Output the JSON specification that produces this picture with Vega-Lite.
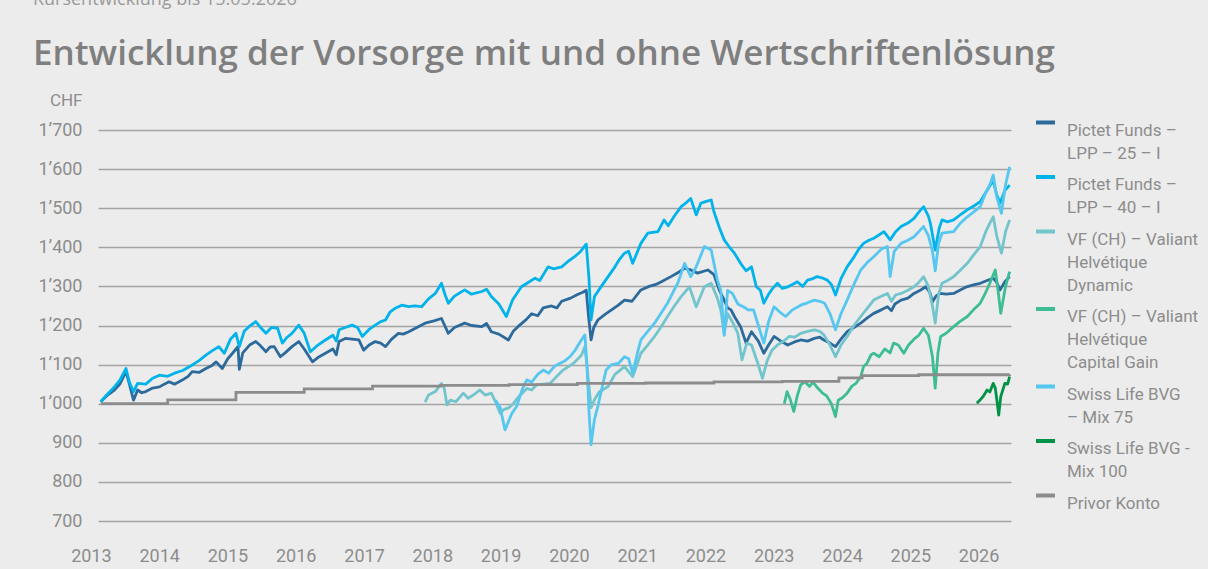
{
  "$schema": "https://vega.github.io/schema/vega-lite/v6.json",
  "width": 913,
  "height": 391,
  "autosize": {"type": "none"},
  "padding": {"left": 98, "top": 130, "right": 197, "bottom": 48},
  "background": "#ececec",
  "config": {"view": {"stroke": null}, "font": "Roboto"},
  "title": {
    "text": "Kursentwicklung bis 15.05.2026",
    "subtitle": "Entwicklung der Vorsorge mit und ohne Wertschriftenlösung",
    "anchor": "start",
    "frame": "group",
    "dx": -65,
    "offset": 19,
    "font": "Open Sans",
    "fontSize": 18,
    "fontWeight": "normal",
    "color": "#9a9a9a",
    "subtitleFont": "Open Sans",
    "subtitleFontSize": 35,
    "subtitleFontWeight": 600,
    "subtitleColor": "#7f7f7f",
    "subtitlePadding": 28
  },
  "data": {"values": [
    {"f":"P25","t":2013.02,"v":1005},{"f":"P25","t":2013.12,"v":1022},{"f":"P25","t":2013.22,"v":1035},{"f":"P25","t":2013.30,"v":1050},{"f":"P25","t":2013.39,"v":1082},{"f":"P25","t":2013.44,"v":1050},{"f":"P25","t":2013.50,"v":1009},{"f":"P25","t":2013.56,"v":1035},{"f":"P25","t":2013.62,"v":1028},{"f":"P25","t":2013.68,"v":1031},{"f":"P25","t":2013.78,"v":1040},{"f":"P25","t":2013.88,"v":1043},{"f":"P25","t":2013.95,"v":1050},{"f":"P25","t":2014.02,"v":1056},{"f":"P25","t":2014.10,"v":1050},{"f":"P25","t":2014.22,"v":1061},{"f":"P25","t":2014.30,"v":1070},{"f":"P25","t":2014.36,"v":1082},{"f":"P25","t":2014.46,"v":1080},{"f":"P25","t":2014.56,"v":1090},{"f":"P25","t":2014.65,"v":1098},{"f":"P25","t":2014.71,"v":1107},{"f":"P25","t":2014.80,"v":1090},{"f":"P25","t":2014.88,"v":1115},{"f":"P25","t":2014.95,"v":1129},{"f":"P25","t":2015.03,"v":1146},{"f":"P25","t":2015.05,"v":1088},{"f":"P25","t":2015.10,"v":1130},{"f":"P25","t":2015.20,"v":1150},{"f":"P25","t":2015.29,"v":1159},{"f":"P25","t":2015.36,"v":1148},{"f":"P25","t":2015.44,"v":1133},{"f":"P25","t":2015.50,"v":1145},{"f":"P25","t":2015.56,"v":1146},{"f":"P25","t":2015.65,"v":1120},{"f":"P25","t":2015.72,"v":1130},{"f":"P25","t":2015.82,"v":1146},{"f":"P25","t":2015.92,"v":1159},{"f":"P25","t":2016.00,"v":1140},{"f":"P25","t":2016.12,"v":1107},{"f":"P25","t":2016.20,"v":1118},{"f":"P25","t":2016.31,"v":1129},{"f":"P25","t":2016.42,"v":1140},{"f":"P25","t":2016.47,"v":1125},{"f":"P25","t":2016.51,"v":1159},{"f":"P25","t":2016.60,"v":1167},{"f":"P25","t":2016.70,"v":1165},{"f":"P25","t":2016.80,"v":1163},{"f":"P25","t":2016.87,"v":1137},{"f":"P25","t":2016.95,"v":1150},{"f":"P25","t":2017.04,"v":1159},{"f":"P25","t":2017.12,"v":1155},{"f":"P25","t":2017.19,"v":1146},{"f":"P25","t":2017.28,"v":1165},{"f":"P25","t":2017.38,"v":1180},{"f":"P25","t":2017.45,"v":1178},{"f":"P25","t":2017.53,"v":1184},{"f":"P25","t":2017.65,"v":1195},{"f":"P25","t":2017.77,"v":1206},{"f":"P25","t":2017.90,"v":1212},{"f":"P25","t":2018.01,"v":1218},{"f":"P25","t":2018.11,"v":1180},{"f":"P25","t":2018.20,"v":1195},{"f":"P25","t":2018.35,"v":1206},{"f":"P25","t":2018.45,"v":1200},{"f":"P25","t":2018.60,"v":1197},{"f":"P25","t":2018.67,"v":1205},{"f":"P25","t":2018.74,"v":1184},{"f":"P25","t":2018.85,"v":1178},{"f":"P25","t":2018.99,"v":1163},{"f":"P25","t":2019.06,"v":1185},{"f":"P25","t":2019.13,"v":1197},{"f":"P25","t":2019.25,"v":1215},{"f":"P25","t":2019.33,"v":1230},{"f":"P25","t":2019.42,"v":1225},{"f":"P25","t":2019.50,"v":1245},{"f":"P25","t":2019.62,"v":1250},{"f":"P25","t":2019.70,"v":1245},{"f":"P25","t":2019.77,"v":1262},{"f":"P25","t":2019.90,"v":1270},{"f":"P25","t":2020.01,"v":1280},{"f":"P25","t":2020.08,"v":1285},{"f":"P25","t":2020.13,"v":1290},{"f":"P25","t":2020.16,"v":1230},{"f":"P25","t":2020.20,"v":1163},{"f":"P25","t":2020.24,"v":1195},{"f":"P25","t":2020.30,"v":1214},{"f":"P25","t":2020.40,"v":1228},{"f":"P25","t":2020.50,"v":1240},{"f":"P25","t":2020.60,"v":1252},{"f":"P25","t":2020.69,"v":1265},{"f":"P25","t":2020.80,"v":1262},{"f":"P25","t":2020.93,"v":1291},{"f":"P25","t":2021.05,"v":1300},{"f":"P25","t":2021.15,"v":1305},{"f":"P25","t":2021.23,"v":1312},{"f":"P25","t":2021.37,"v":1325},{"f":"P25","t":2021.47,"v":1335},{"f":"P25","t":2021.57,"v":1346},{"f":"P25","t":2021.66,"v":1342},{"f":"P25","t":2021.76,"v":1334},{"f":"P25","t":2021.91,"v":1342},{"f":"P25","t":2022.00,"v":1330},{"f":"P25","t":2022.08,"v":1290},{"f":"P25","t":2022.15,"v":1265},{"f":"P25","t":2022.20,"v":1245},{"f":"P25","t":2022.25,"v":1240},{"f":"P25","t":2022.30,"v":1223},{"f":"P25","t":2022.39,"v":1197},{"f":"P25","t":2022.47,"v":1155},{"f":"P25","t":2022.55,"v":1184},{"f":"P25","t":2022.65,"v":1160},{"f":"P25","t":2022.73,"v":1129},{"f":"P25","t":2022.80,"v":1150},{"f":"P25","t":2022.88,"v":1172},{"f":"P25","t":2022.98,"v":1160},{"f":"P25","t":2023.08,"v":1150},{"f":"P25","t":2023.18,"v":1158},{"f":"P25","t":2023.27,"v":1163},{"f":"P25","t":2023.37,"v":1160},{"f":"P25","t":2023.47,"v":1167},{"f":"P25","t":2023.55,"v":1170},{"f":"P25","t":2023.61,"v":1163},{"f":"P25","t":2023.70,"v":1155},{"f":"P25","t":2023.78,"v":1146},{"f":"P25","t":2023.86,"v":1165},{"f":"P25","t":2023.95,"v":1184},{"f":"P25","t":2024.05,"v":1195},{"f":"P25","t":2024.15,"v":1206},{"f":"P25","t":2024.25,"v":1220},{"f":"P25","t":2024.34,"v":1231},{"f":"P25","t":2024.45,"v":1240},{"f":"P25","t":2024.54,"v":1248},{"f":"P25","t":2024.60,"v":1238},{"f":"P25","t":2024.65,"v":1255},{"f":"P25","t":2024.74,"v":1265},{"f":"P25","t":2024.84,"v":1270},{"f":"P25","t":2024.93,"v":1282},{"f":"P25","t":2025.02,"v":1290},{"f":"P25","t":2025.10,"v":1299},{"f":"P25","t":2025.16,"v":1285},{"f":"P25","t":2025.20,"v":1261},{"f":"P25","t":2025.25,"v":1275},{"f":"P25","t":2025.31,"v":1282},{"f":"P25","t":2025.40,"v":1280},{"f":"P25","t":2025.51,"v":1282},{"f":"P25","t":2025.60,"v":1290},{"f":"P25","t":2025.70,"v":1299},{"f":"P25","t":2025.80,"v":1304},{"f":"P25","t":2025.90,"v":1308},{"f":"P25","t":2026.00,"v":1315},{"f":"P25","t":2026.09,"v":1321},{"f":"P25","t":2026.14,"v":1310},{"f":"P25","t":2026.19,"v":1291},{"f":"P25","t":2026.26,"v":1312},{"f":"P25","t":2026.33,"v":1325},

    {"f":"P40","t":2013.02,"v":1005},{"f":"P40","t":2013.12,"v":1025},{"f":"P40","t":2013.22,"v":1043},{"f":"P40","t":2013.30,"v":1060},{"f":"P40","t":2013.39,"v":1090},{"f":"P40","t":2013.44,"v":1055},{"f":"P40","t":2013.50,"v":1031},{"f":"P40","t":2013.56,"v":1052},{"f":"P40","t":2013.68,"v":1050},{"f":"P40","t":2013.78,"v":1065},{"f":"P40","t":2013.88,"v":1073},{"f":"P40","t":2014.00,"v":1070},{"f":"P40","t":2014.10,"v":1078},{"f":"P40","t":2014.22,"v":1085},{"f":"P40","t":2014.36,"v":1099},{"f":"P40","t":2014.46,"v":1110},{"f":"P40","t":2014.56,"v":1124},{"f":"P40","t":2014.65,"v":1135},{"f":"P40","t":2014.75,"v":1146},{"f":"P40","t":2014.83,"v":1129},{"f":"P40","t":2014.92,"v":1165},{"f":"P40","t":2015.00,"v":1180},{"f":"P40","t":2015.05,"v":1146},{"f":"P40","t":2015.12,"v":1185},{"f":"P40","t":2015.19,"v":1197},{"f":"P40","t":2015.29,"v":1210},{"f":"P40","t":2015.36,"v":1195},{"f":"P40","t":2015.44,"v":1180},{"f":"P40","t":2015.52,"v":1195},{"f":"P40","t":2015.61,"v":1193},{"f":"P40","t":2015.68,"v":1155},{"f":"P40","t":2015.75,"v":1170},{"f":"P40","t":2015.82,"v":1180},{"f":"P40","t":2015.92,"v":1201},{"f":"P40","t":2016.00,"v":1180},{"f":"P40","t":2016.09,"v":1133},{"f":"P40","t":2016.20,"v":1150},{"f":"P40","t":2016.31,"v":1163},{"f":"P40","t":2016.42,"v":1175},{"f":"P40","t":2016.47,"v":1160},{"f":"P40","t":2016.51,"v":1189},{"f":"P40","t":2016.60,"v":1195},{"f":"P40","t":2016.70,"v":1201},{"f":"P40","t":2016.78,"v":1195},{"f":"P40","t":2016.85,"v":1172},{"f":"P40","t":2016.95,"v":1190},{"f":"P40","t":2017.04,"v":1201},{"f":"P40","t":2017.12,"v":1210},{"f":"P40","t":2017.19,"v":1214},{"f":"P40","t":2017.26,"v":1235},{"f":"P40","t":2017.33,"v":1244},{"f":"P40","t":2017.43,"v":1252},{"f":"P40","t":2017.53,"v":1248},{"f":"P40","t":2017.62,"v":1250},{"f":"P40","t":2017.72,"v":1248},{"f":"P40","t":2017.82,"v":1268},{"f":"P40","t":2017.92,"v":1282},{"f":"P40","t":2018.01,"v":1308},{"f":"P40","t":2018.06,"v":1280},{"f":"P40","t":2018.11,"v":1257},{"f":"P40","t":2018.20,"v":1275},{"f":"P40","t":2018.35,"v":1291},{"f":"P40","t":2018.45,"v":1280},{"f":"P40","t":2018.60,"v":1287},{"f":"P40","t":2018.67,"v":1293},{"f":"P40","t":2018.74,"v":1274},{"f":"P40","t":2018.85,"v":1255},{"f":"P40","t":2018.96,"v":1223},{"f":"P40","t":2019.05,"v":1265},{"f":"P40","t":2019.18,"v":1299},{"f":"P40","t":2019.28,"v":1310},{"f":"P40","t":2019.38,"v":1321},{"f":"P40","t":2019.45,"v":1315},{"f":"P40","t":2019.57,"v":1350},{"f":"P40","t":2019.65,"v":1345},{"f":"P40","t":2019.77,"v":1350},{"f":"P40","t":2019.87,"v":1365},{"f":"P40","t":2019.96,"v":1376},{"f":"P40","t":2020.05,"v":1390},{"f":"P40","t":2020.13,"v":1408},{"f":"P40","t":2020.17,"v":1320},{"f":"P40","t":2020.20,"v":1214},{"f":"P40","t":2020.25,"v":1274},{"f":"P40","t":2020.35,"v":1300},{"f":"P40","t":2020.45,"v":1325},{"f":"P40","t":2020.55,"v":1350},{"f":"P40","t":2020.62,"v":1370},{"f":"P40","t":2020.69,"v":1385},{"f":"P40","t":2020.75,"v":1390},{"f":"P40","t":2020.81,"v":1359},{"f":"P40","t":2020.93,"v":1410},{"f":"P40","t":2021.03,"v":1436},{"f":"P40","t":2021.18,"v":1440},{"f":"P40","t":2021.27,"v":1470},{"f":"P40","t":2021.33,"v":1455},{"f":"P40","t":2021.42,"v":1480},{"f":"P40","t":2021.52,"v":1504},{"f":"P40","t":2021.60,"v":1515},{"f":"P40","t":2021.66,"v":1525},{"f":"P40","t":2021.74,"v":1483},{"f":"P40","t":2021.81,"v":1513},{"f":"P40","t":2021.90,"v":1518},{"f":"P40","t":2021.96,"v":1521},{"f":"P40","t":2022.00,"v":1491},{"f":"P40","t":2022.08,"v":1450},{"f":"P40","t":2022.15,"v":1419},{"f":"P40","t":2022.22,"v":1402},{"f":"P40","t":2022.30,"v":1385},{"f":"P40","t":2022.39,"v":1359},{"f":"P40","t":2022.47,"v":1340},{"f":"P40","t":2022.55,"v":1350},{"f":"P40","t":2022.62,"v":1299},{"f":"P40","t":2022.68,"v":1290},{"f":"P40","t":2022.73,"v":1257},{"f":"P40","t":2022.80,"v":1280},{"f":"P40","t":2022.86,"v":1295},{"f":"P40","t":2022.93,"v":1308},{"f":"P40","t":2023.00,"v":1295},{"f":"P40","t":2023.08,"v":1299},{"f":"P40","t":2023.15,"v":1305},{"f":"P40","t":2023.22,"v":1312},{"f":"P40","t":2023.30,"v":1300},{"f":"P40","t":2023.37,"v":1316},{"f":"P40","t":2023.45,"v":1320},{"f":"P40","t":2023.51,"v":1325},{"f":"P40","t":2023.58,"v":1322},{"f":"P40","t":2023.66,"v":1316},{"f":"P40","t":2023.72,"v":1305},{"f":"P40","t":2023.78,"v":1278},{"f":"P40","t":2023.86,"v":1320},{"f":"P40","t":2023.95,"v":1350},{"f":"P40","t":2024.05,"v":1375},{"f":"P40","t":2024.12,"v":1395},{"f":"P40","t":2024.19,"v":1410},{"f":"P40","t":2024.27,"v":1418},{"f":"P40","t":2024.34,"v":1423},{"f":"P40","t":2024.42,"v":1432},{"f":"P40","t":2024.49,"v":1440},{"f":"P40","t":2024.58,"v":1419},{"f":"P40","t":2024.66,"v":1440},{"f":"P40","t":2024.74,"v":1453},{"f":"P40","t":2024.84,"v":1462},{"f":"P40","t":2024.93,"v":1474},{"f":"P40","t":2025.00,"v":1490},{"f":"P40","t":2025.07,"v":1504},{"f":"P40","t":2025.14,"v":1480},{"f":"P40","t":2025.17,"v":1461},{"f":"P40","t":2025.24,"v":1393},{"f":"P40","t":2025.30,"v":1450},{"f":"P40","t":2025.34,"v":1470},{"f":"P40","t":2025.42,"v":1465},{"f":"P40","t":2025.51,"v":1470},{"f":"P40","t":2025.60,"v":1482},{"f":"P40","t":2025.71,"v":1496},{"f":"P40","t":2025.80,"v":1505},{"f":"P40","t":2025.90,"v":1517},{"f":"P40","t":2025.98,"v":1540},{"f":"P40","t":2026.05,"v":1560},{"f":"P40","t":2026.09,"v":1570},{"f":"P40","t":2026.14,"v":1535},{"f":"P40","t":2026.19,"v":1513},{"f":"P40","t":2026.26,"v":1545},{"f":"P40","t":2026.33,"v":1559},

    {"f":"VFD","t":2017.77,"v":1004},{"f":"VFD","t":2017.82,"v":1022},{"f":"VFD","t":2017.92,"v":1031},{"f":"VFD","t":2018.01,"v":1052},{"f":"VFD","t":2018.05,"v":1040},{"f":"VFD","t":2018.09,"v":997},{"f":"VFD","t":2018.14,"v":1009},{"f":"VFD","t":2018.22,"v":1005},{"f":"VFD","t":2018.33,"v":1027},{"f":"VFD","t":2018.40,"v":1014},{"f":"VFD","t":2018.50,"v":1025},{"f":"VFD","t":2018.57,"v":1035},{"f":"VFD","t":2018.65,"v":1022},{"f":"VFD","t":2018.74,"v":1027},{"f":"VFD","t":2018.80,"v":1005},{"f":"VFD","t":2018.87,"v":975},{"f":"VFD","t":2018.92,"v":985},{"f":"VFD","t":2019.00,"v":990},{"f":"VFD","t":2019.06,"v":1000},{"f":"VFD","t":2019.15,"v":1020},{"f":"VFD","t":2019.26,"v":1039},{"f":"VFD","t":2019.33,"v":1035},{"f":"VFD","t":2019.40,"v":1048},{"f":"VFD","t":2019.50,"v":1050},{"f":"VFD","t":2019.60,"v":1052},{"f":"VFD","t":2019.70,"v":1070},{"f":"VFD","t":2019.79,"v":1086},{"f":"VFD","t":2019.87,"v":1095},{"f":"VFD","t":2019.94,"v":1103},{"f":"VFD","t":2020.06,"v":1124},{"f":"VFD","t":2020.11,"v":1146},{"f":"VFD","t":2020.15,"v":1080},{"f":"VFD","t":2020.20,"v":990},{"f":"VFD","t":2020.25,"v":1010},{"f":"VFD","t":2020.32,"v":1030},{"f":"VFD","t":2020.45,"v":1044},{"f":"VFD","t":2020.55,"v":1075},{"f":"VFD","t":2020.69,"v":1095},{"f":"VFD","t":2020.81,"v":1069},{"f":"VFD","t":2020.93,"v":1129},{"f":"VFD","t":2021.03,"v":1150},{"f":"VFD","t":2021.13,"v":1172},{"f":"VFD","t":2021.22,"v":1195},{"f":"VFD","t":2021.32,"v":1223},{"f":"VFD","t":2021.42,"v":1250},{"f":"VFD","t":2021.52,"v":1274},{"f":"VFD","t":2021.64,"v":1299},{"f":"VFD","t":2021.74,"v":1248},{"f":"VFD","t":2021.86,"v":1299},{"f":"VFD","t":2021.96,"v":1308},{"f":"VFD","t":2022.05,"v":1270},{"f":"VFD","t":2022.10,"v":1240},{"f":"VFD","t":2022.15,"v":1180},{"f":"VFD","t":2022.20,"v":1230},{"f":"VFD","t":2022.28,"v":1206},{"f":"VFD","t":2022.35,"v":1180},{"f":"VFD","t":2022.41,"v":1112},{"f":"VFD","t":2022.48,"v":1155},{"f":"VFD","t":2022.55,"v":1150},{"f":"VFD","t":2022.63,"v":1110},{"f":"VFD","t":2022.71,"v":1065},{"f":"VFD","t":2022.78,"v":1110},{"f":"VFD","t":2022.85,"v":1137},{"f":"VFD","t":2022.93,"v":1150},{"f":"VFD","t":2023.02,"v":1160},{"f":"VFD","t":2023.10,"v":1172},{"f":"VFD","t":2023.18,"v":1170},{"f":"VFD","t":2023.27,"v":1180},{"f":"VFD","t":2023.37,"v":1185},{"f":"VFD","t":2023.47,"v":1189},{"f":"VFD","t":2023.55,"v":1185},{"f":"VFD","t":2023.61,"v":1176},{"f":"VFD","t":2023.70,"v":1150},{"f":"VFD","t":2023.78,"v":1120},{"f":"VFD","t":2023.86,"v":1150},{"f":"VFD","t":2023.95,"v":1172},{"f":"VFD","t":2024.05,"v":1200},{"f":"VFD","t":2024.15,"v":1223},{"f":"VFD","t":2024.25,"v":1245},{"f":"VFD","t":2024.34,"v":1265},{"f":"VFD","t":2024.45,"v":1275},{"f":"VFD","t":2024.54,"v":1282},{"f":"VFD","t":2024.60,"v":1262},{"f":"VFD","t":2024.66,"v":1278},{"f":"VFD","t":2024.74,"v":1282},{"f":"VFD","t":2024.84,"v":1290},{"f":"VFD","t":2024.93,"v":1299},{"f":"VFD","t":2025.00,"v":1310},{"f":"VFD","t":2025.07,"v":1325},{"f":"VFD","t":2025.14,"v":1300},{"f":"VFD","t":2025.20,"v":1250},{"f":"VFD","t":2025.24,"v":1206},{"f":"VFD","t":2025.29,"v":1280},{"f":"VFD","t":2025.34,"v":1308},{"f":"VFD","t":2025.42,"v":1315},{"f":"VFD","t":2025.51,"v":1325},{"f":"VFD","t":2025.60,"v":1340},{"f":"VFD","t":2025.71,"v":1359},{"f":"VFD","t":2025.80,"v":1380},{"f":"VFD","t":2025.90,"v":1402},{"f":"VFD","t":2025.98,"v":1440},{"f":"VFD","t":2026.05,"v":1465},{"f":"VFD","t":2026.09,"v":1478},{"f":"VFD","t":2026.14,"v":1430},{"f":"VFD","t":2026.21,"v":1385},{"f":"VFD","t":2026.27,"v":1440},{"f":"VFD","t":2026.33,"v":1470},

    {"f":"VFC","t":2023.03,"v":1000},{"f":"VFC","t":2023.07,"v":1031},{"f":"VFC","t":2023.12,"v":1010},{"f":"VFC","t":2023.17,"v":980},{"f":"VFC","t":2023.22,"v":1020},{"f":"VFC","t":2023.27,"v":1048},{"f":"VFC","t":2023.33,"v":1056},{"f":"VFC","t":2023.40,"v":1044},{"f":"VFC","t":2023.45,"v":1055},{"f":"VFC","t":2023.52,"v":1040},{"f":"VFC","t":2023.59,"v":1027},{"f":"VFC","t":2023.65,"v":1020},{"f":"VFC","t":2023.72,"v":1000},{"f":"VFC","t":2023.78,"v":967},{"f":"VFC","t":2023.82,"v":1009},{"f":"VFC","t":2023.88,"v":1015},{"f":"VFC","t":2023.95,"v":1027},{"f":"VFC","t":2024.02,"v":1045},{"f":"VFC","t":2024.08,"v":1052},{"f":"VFC","t":2024.15,"v":1069},{"f":"VFC","t":2024.19,"v":1095},{"f":"VFC","t":2024.24,"v":1103},{"f":"VFC","t":2024.30,"v":1125},{"f":"VFC","t":2024.34,"v":1129},{"f":"VFC","t":2024.42,"v":1120},{"f":"VFC","t":2024.50,"v":1140},{"f":"VFC","t":2024.58,"v":1130},{"f":"VFC","t":2024.63,"v":1155},{"f":"VFC","t":2024.70,"v":1150},{"f":"VFC","t":2024.78,"v":1129},{"f":"VFC","t":2024.85,"v":1150},{"f":"VFC","t":2024.93,"v":1165},{"f":"VFC","t":2025.00,"v":1175},{"f":"VFC","t":2025.07,"v":1193},{"f":"VFC","t":2025.14,"v":1175},{"f":"VFC","t":2025.20,"v":1120},{"f":"VFC","t":2025.24,"v":1040},{"f":"VFC","t":2025.28,"v":1130},{"f":"VFC","t":2025.32,"v":1172},{"f":"VFC","t":2025.40,"v":1180},{"f":"VFC","t":2025.51,"v":1197},{"f":"VFC","t":2025.60,"v":1210},{"f":"VFC","t":2025.71,"v":1223},{"f":"VFC","t":2025.80,"v":1240},{"f":"VFC","t":2025.90,"v":1257},{"f":"VFC","t":2025.98,"v":1285},{"f":"VFC","t":2026.04,"v":1308},{"f":"VFC","t":2026.12,"v":1342},{"f":"VFC","t":2026.16,"v":1290},{"f":"VFC","t":2026.20,"v":1231},{"f":"VFC","t":2026.27,"v":1300},{"f":"VFC","t":2026.33,"v":1338},

    {"f":"SL75","t":2018.80,"v":1009},{"f":"SL75","t":2018.87,"v":990},{"f":"SL75","t":2018.94,"v":933},{"f":"SL75","t":2018.98,"v":950},{"f":"SL75","t":2019.04,"v":975},{"f":"SL75","t":2019.11,"v":993},{"f":"SL75","t":2019.20,"v":1040},{"f":"SL75","t":2019.26,"v":1061},{"f":"SL75","t":2019.33,"v":1055},{"f":"SL75","t":2019.42,"v":1075},{"f":"SL75","t":2019.50,"v":1086},{"f":"SL75","t":2019.58,"v":1078},{"f":"SL75","t":2019.66,"v":1095},{"f":"SL75","t":2019.74,"v":1103},{"f":"SL75","t":2019.82,"v":1110},{"f":"SL75","t":2019.89,"v":1120},{"f":"SL75","t":2019.96,"v":1135},{"f":"SL75","t":2020.03,"v":1155},{"f":"SL75","t":2020.11,"v":1176},{"f":"SL75","t":2020.14,"v":1100},{"f":"SL75","t":2020.17,"v":980},{"f":"SL75","t":2020.20,"v":895},{"f":"SL75","t":2020.25,"v":960},{"f":"SL75","t":2020.30,"v":993},{"f":"SL75","t":2020.36,"v":1040},{"f":"SL75","t":2020.42,"v":1086},{"f":"SL75","t":2020.50,"v":1100},{"f":"SL75","t":2020.60,"v":1103},{"f":"SL75","t":2020.69,"v":1120},{"f":"SL75","t":2020.75,"v":1115},{"f":"SL75","t":2020.81,"v":1078},{"f":"SL75","t":2020.88,"v":1130},{"f":"SL75","t":2020.93,"v":1163},{"f":"SL75","t":2021.03,"v":1185},{"f":"SL75","t":2021.13,"v":1206},{"f":"SL75","t":2021.22,"v":1230},{"f":"SL75","t":2021.32,"v":1257},{"f":"SL75","t":2021.40,"v":1285},{"f":"SL75","t":2021.47,"v":1308},{"f":"SL75","t":2021.57,"v":1359},{"f":"SL75","t":2021.66,"v":1325},{"f":"SL75","t":2021.74,"v":1350},{"f":"SL75","t":2021.86,"v":1402},{"f":"SL75","t":2021.96,"v":1393},{"f":"SL75","t":2022.05,"v":1316},{"f":"SL75","t":2022.10,"v":1290},{"f":"SL75","t":2022.15,"v":1175},{"f":"SL75","t":2022.20,"v":1290},{"f":"SL75","t":2022.27,"v":1282},{"f":"SL75","t":2022.35,"v":1255},{"f":"SL75","t":2022.43,"v":1248},{"f":"SL75","t":2022.50,"v":1240},{"f":"SL75","t":2022.58,"v":1240},{"f":"SL75","t":2022.65,"v":1200},{"f":"SL75","t":2022.73,"v":1155},{"f":"SL75","t":2022.80,"v":1210},{"f":"SL75","t":2022.88,"v":1248},{"f":"SL75","t":2022.96,"v":1235},{"f":"SL75","t":2023.05,"v":1223},{"f":"SL75","t":2023.15,"v":1240},{"f":"SL75","t":2023.27,"v":1252},{"f":"SL75","t":2023.37,"v":1258},{"f":"SL75","t":2023.47,"v":1265},{"f":"SL75","t":2023.55,"v":1262},{"f":"SL75","t":2023.62,"v":1257},{"f":"SL75","t":2023.70,"v":1230},{"f":"SL75","t":2023.78,"v":1189},{"f":"SL75","t":2023.86,"v":1230},{"f":"SL75","t":2023.95,"v":1265},{"f":"SL75","t":2024.05,"v":1305},{"f":"SL75","t":2024.15,"v":1342},{"f":"SL75","t":2024.25,"v":1362},{"f":"SL75","t":2024.34,"v":1376},{"f":"SL75","t":2024.45,"v":1395},{"f":"SL75","t":2024.54,"v":1402},{"f":"SL75","t":2024.58,"v":1325},{"f":"SL75","t":2024.64,"v":1390},{"f":"SL75","t":2024.74,"v":1410},{"f":"SL75","t":2024.84,"v":1418},{"f":"SL75","t":2024.93,"v":1427},{"f":"SL75","t":2025.00,"v":1440},{"f":"SL75","t":2025.07,"v":1453},{"f":"SL75","t":2025.14,"v":1430},{"f":"SL75","t":2025.20,"v":1390},{"f":"SL75","t":2025.24,"v":1340},{"f":"SL75","t":2025.29,"v":1410},{"f":"SL75","t":2025.34,"v":1436},{"f":"SL75","t":2025.42,"v":1438},{"f":"SL75","t":2025.51,"v":1440},{"f":"SL75","t":2025.60,"v":1460},{"f":"SL75","t":2025.71,"v":1478},{"f":"SL75","t":2025.80,"v":1490},{"f":"SL75","t":2025.90,"v":1504},{"f":"SL75","t":2025.98,"v":1540},{"f":"SL75","t":2026.05,"v":1564},{"f":"SL75","t":2026.09,"v":1585},{"f":"SL75","t":2026.14,"v":1530},{"f":"SL75","t":2026.21,"v":1487},{"f":"SL75","t":2026.27,"v":1560},{"f":"SL75","t":2026.33,"v":1606},

    {"f":"SL100","t":2025.85,"v":1001},{"f":"SL100","t":2025.90,"v":1010},{"f":"SL100","t":2025.94,"v":1018},{"f":"SL100","t":2026.00,"v":1035},{"f":"SL100","t":2026.04,"v":1030},{"f":"SL100","t":2026.09,"v":1052},{"f":"SL100","t":2026.12,"v":1040},{"f":"SL100","t":2026.15,"v":1000},{"f":"SL100","t":2026.17,"v":971},{"f":"SL100","t":2026.20,"v":1018},{"f":"SL100","t":2026.26,"v":1052},{"f":"SL100","t":2026.30,"v":1050},{"f":"SL100","t":2026.33,"v":1069},

    {"f":"PK","t":2013.02,"v":1000},{"f":"PK","t":2014.0,"v":1010},{"f":"PK","t":2015.0,"v":1029},{"f":"PK","t":2016.0,"v":1038},{"f":"PK","t":2017.0,"v":1045},{"f":"PK","t":2018.0,"v":1047},{"f":"PK","t":2019.0,"v":1049},{"f":"PK","t":2020.0,"v":1052},{"f":"PK","t":2021.0,"v":1053},{"f":"PK","t":2022.0,"v":1056},{"f":"PK","t":2023.0,"v":1057},{"f":"PK","t":2023.83,"v":1066},{"f":"PK","t":2024.17,"v":1072},{"f":"PK","t":2025.0,"v":1074},{"f":"PK","t":2026.33,"v":1075}
  ]},
  "encoding": {
    "x": {
      "field": "t", "type": "quantitative",
      "scale": {"domain": [2012.98, 2026.35], "nice": false, "zero": false},
      "axis": {
        "values": [2013,2014,2015,2016,2017,2018,2019,2020,2021,2022,2023,2024,2025,2026],
        "format": "d", "labelOffset": -8.5, "labelFlush": false, "labelOverlap": false,
        "grid": false, "domain": false, "ticks": false,
        "labelPadding": 26, "labelFontSize": 18, "labelColor": "#8c8c8c", "title": null
      }
    },
    "y": {
      "field": "v", "type": "quantitative",
      "scale": {"domain": [700, 1700], "nice": false, "zero": false},
      "axis": {
        "values": [700,800,900,1000,1100,1200,1300,1400,1500,1600,1700],
        "labelExpr": "replace(format(datum.value, ','), ',', '’')",
        "grid": true, "gridColor": "#a3a3a3", "gridWidth": 1.5,
        "domain": false, "ticks": false, "labelPadding": 16,
        "labelFontSize": 18, "labelColor": "#8c8c8c",
        "title": "CHF", "titleAngle": 0, "titleAlign": "right", "titleBaseline": "middle",
        "titleX": -16, "titleY": -30, "titleFontSize": 17, "titleFontWeight": "normal", "titleColor": "#8c8c8c"
      }
    },
    "color": {
      "field": "f", "type": "nominal",
      "scale": {
        "domain": ["P25","P40","VFD","VFC","SL75","SL100","PK"],
        "range": ["#2c6a9c","#00b3ea","#72c4cd","#3dbd95","#55c7f0","#009245","#8c8c8c"]
      },
      "legend": {
        "orient": "none", "legendX": 936, "legendY": -19, "title": null,
        "symbolType": "stroke", "symbolSize": 361, "symbolStrokeWidth": 4,
        "labelFontSize": 17, "labelColor": "#8c8c8c", "labelOffset": 10, "rowPadding": 3.5, "labelLimit": 250,
        "labelBaseline": "top",
        "labelExpr": "datum.label=='P25'?['Pictet Funds –','LPP – 25 – I']:datum.label=='P40'?['Pictet Funds –','LPP – 40 – I']:datum.label=='VFD'?['VF (CH) – Valiant','Helvétique','Dynamic']:datum.label=='VFC'?['VF (CH) – Valiant','Helvétique','Capital Gain']:datum.label=='SL75'?['Swiss Life BVG','– Mix 75']:datum.label=='SL100'?['Swiss Life BVG -','Mix 100']:'Privor Konto'",
        "encode": {"labels": {"update": {"lineHeight": {"value": 23}}}}
      }
    }
  },
  "layer": [
    {
      "transform": [{"filter": "datum.f != 'PK'"}],
      "mark": {"type": "line", "strokeWidth": 2.8, "clip": true, "strokeJoin": "round"}
    },
    {
      "transform": [{"filter": "datum.f == 'PK'"}],
      "mark": {"type": "line", "strokeWidth": 2.8, "interpolate": "step-after", "clip": true}
    }
  ]
}
